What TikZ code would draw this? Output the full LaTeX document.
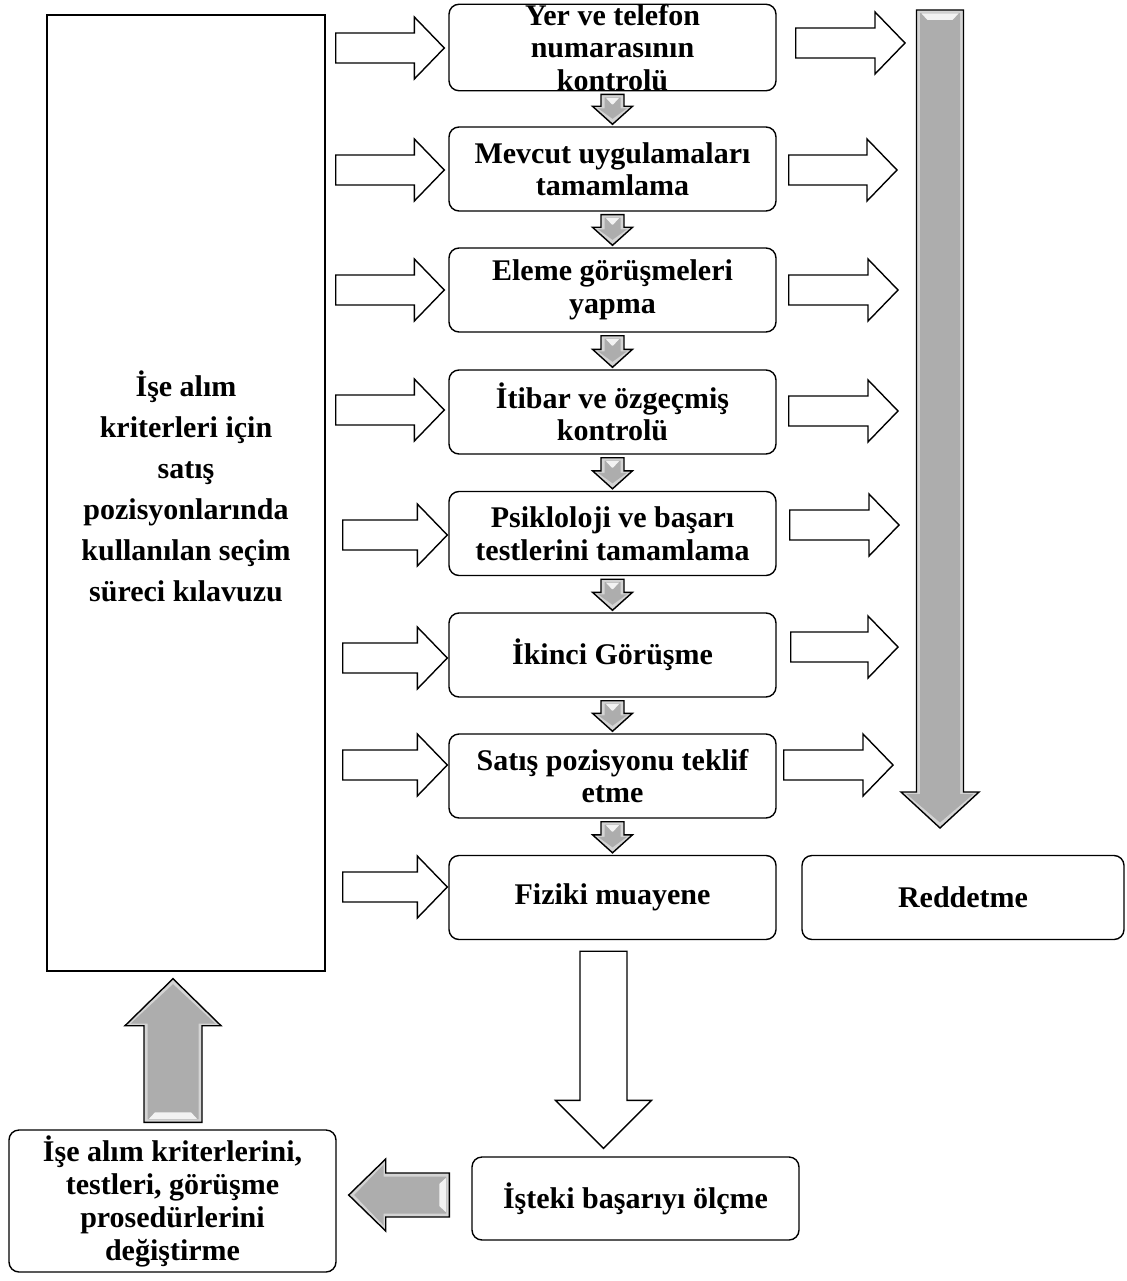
\documentclass[tikz,border=0pt]{standalone}
\usepackage{fontspec}
\setmainfont{Liberation Serif}
\usetikzlibrary{calc}

\definecolor{arrowgray}{HTML}{ADADAD}
\definecolor{rimgray}{HTML}{D4D4D4}

% outline of a block arrow along the local x axis:
% #1 start, #2 shaft half-width, #3 head base, #4 head half-width, #5 tip
\newcommand\arrowpoly[5]{({#1},{-(#2)}) -- ({#3},{-(#2)}) -- ({#3},{-(#4)}) -- ({#5},0) -- ({#3},{#4}) -- ({#3},{#2}) -- ({#1},{#2}) -- cycle}

% length and direction of the arrow from #1 to #2
\newcommand\arrowframe[2]{%
  \path let \p1=(#1), \p2=(#2) in \pgfextra{%
    \pgfmathsetmacro\tmplen{veclen(\x2-\x1,\y2-\y1)}%
    \pgfmathsetmacro\tmpang{atan2(\y2-\y1,\x2-\x1)}%
    \xdef\arrlen{\tmplen}\xdef\arrang{\tmpang}};}

% hollow block arrow: from, to, shaft half-width, head half-width, head length
\newcommand\whiteblock[5]{%
  \arrowframe{#1}{#2}%
  \begin{scope}[shift={(#1)}, rotate=\arrang]
    \draw[whitearrow] \arrowpoly{0}{#3}{\arrlen-#5}{#4}{\arrlen};
  \end{scope}}

% bevelled grey block arrow: from, to, shaft half-width, head half-width, head length
\newcommand\grayblock[5]{%
  \arrowframe{#1}{#2}%
  \begin{scope}[shift={(#1)}, rotate=\arrang]
    \fill[rimgray] \arrowpoly{0}{#3}{\arrlen-#5}{#4}{\arrlen};
    \fill[arrowgray] \arrowpoly{3}{#3-3.5}{\arrlen-#5+2}{#4-5.5}{\arrlen-5.5};
    \fill[white, opacity=.85] (3.5,{-(#3-5)}) -- (3.5,{#3-5}) -- (10,{#3-11}) -- (10,{-(#3-11)}) -- cycle;
    \draw[line width=1.4pt, line join=miter] \arrowpoly{0}{#3}{\arrlen-#5}{#4}{\arrlen};
  \end{scope}}

\begin{document}
\begin{tikzpicture}[x=1pt, y=-1pt,
  whitearrow/.style={draw, fill=white, line width=1.4pt, line join=miter},
  mainbox/.style={draw, line width=1.4pt, minimum width=278pt, minimum height=956pt, inner sep=0pt},
  maintext/.style={align=center, inner sep=0pt, font=\fontsize{30}{41}\selectfont\bfseries},
  stepbox/.style={draw, fill=white, line width=1.4pt, rounded corners=10pt,
    minimum width=327pt, minimum height=84pt, align=center, inner sep=0pt,
    font=\fontsize{30}{32.5}\selectfont\bfseries}]

\useasboundingbox[fill=white] (0,0) rectangle (1126,1281);

% left guide box
\node[mainbox] (crit) at (186,493) {};
\node[maintext] (crittext) at (186,486) {İşe alım\\kriterleri için\\satış\\pozisyonlarında\\kullanılan seçim\\süreci kılavuzu};

% selection steps
\node[stepbox] (b1) at (612.5,47.5) {Yer ve telefon\\numarasının\\kontrolü};
\node[stepbox] (b2) at (612.5,169) {Mevcut uygulamaları\\tamamlama};
\node[stepbox] (b3) at (612.5,290) {Eleme görüşmeleri\\yapma};
\node[stepbox] (b4) at (612.5,412) {İtibar ve özgeçmiş\\kontrolü};
\node[stepbox] (b5) at (612.5,533.5) {Psikloloji ve başarı\\testlerini tamamlama};
\node[stepbox] (b6) at (612.5,655) {İkinci Görüşme};
\node[stepbox] (b7) at (612.5,776) {Satış pozisyonu teklif\\etme};
\node[stepbox] (b8) at (612.5,897.5) {Fiziki muayene};

% outcome boxes
\node[stepbox, minimum width=322pt] (rej) at (963,897.5) {Reddetme};
\node[stepbox, minimum height=83pt] (meas) at (635.5,1198.5) {İşteki başarıyı ölçme};
\node[stepbox, minimum height=142pt, font=\fontsize{30}{33}\selectfont\bfseries] (chg) at (172.5,1201)
  {İşe alım kriterlerini,\\testleri, görüşme\\prosedürlerini\\değiştirme};

% rejection rail
\coordinate (rtop) at (940,10);
\coordinate (rtip) at (940,828);
\grayblock{rtop}{rtip}{23.5}{39}{36}

% guide feeds every step
\foreach \i/\dy/\sx/\ex in {1/0.5/10/-4, 2/1/10/-4, 3/0/10/-4, 4/-2/10/-4,
                            5/1.5/17/-1, 6/3/17/-1, 7/-11/17/-1, 8/-10.5/17/-1}
  \whiteblock{$(crit.east |- b\i.west)+(\sx,\dy)$}{$(b\i.west)+(\ex,\dy)$}{15}{31}{30};

% each step may end in rejection
\foreach \i/\dy/\sx/\ex in {1/-4.5/19/-35, 2/1/12/-43, 3/0/12/-42, 4/-1/12/-42,
                            5/-8.5/13/-41, 6/-8/14/-42, 7/-11/7/-47}
  \whiteblock{$(b\i.east)+(\sx,\dy)$}{$(rtop |- b\i.east)+(\ex,\dy)$}{15}{31}{30};

% step to step
\foreach \i/\j in {1/2, 2/3, 3/4, 4/5, 5/6, 6/7, 7/8}
  \grayblock{$(b\i.south)+(0,3)$}{$(b\j.north)+(0,-2)$}{11.5}{20}{18};

% hired candidates are followed up
\whiteblock{$(b8.south)+(-9,11)$}{$(b8.south |- meas.north)+(-9,-8)$}{23.5}{48}{48}

% feedback loop
\grayblock{$(meas.west)+(-22,-3.5)$}{$(chg.east)+(12,-6)$}{22}{36}{37}
\grayblock{$(chg.north)+(0.5,-7)$}{$(chg.north |- crit.south)+(0.5,7)$}{29}{48}{47}

\end{tikzpicture}
\end{document}
